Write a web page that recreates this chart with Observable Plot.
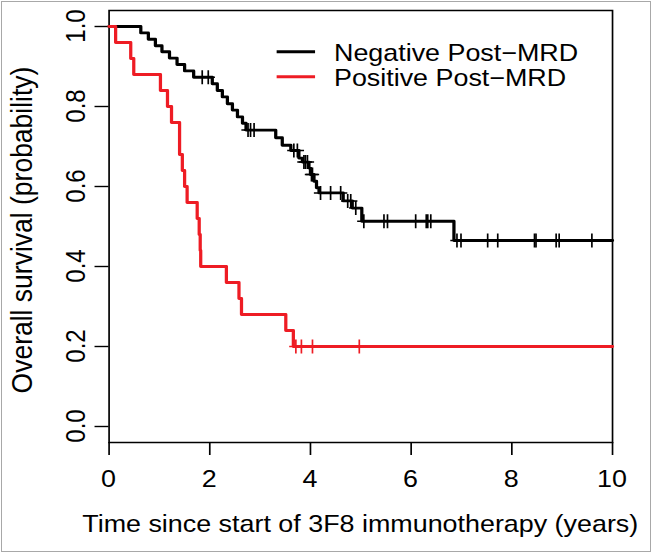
<!DOCTYPE html>
<html><head><meta charset="utf-8">
<script src="https://cdn.jsdelivr.net/npm/d3@7"></script>
<script src="https://cdn.jsdelivr.net/npm/@observablehq/plot@0.6"></script>
<style>
html,body{margin:0;padding:0;background:#fff;}
#chart{width:653px;height:554px;position:relative;overflow:hidden;}
#border{position:absolute;left:1px;top:1px;width:648px;height:549px;border:1px solid #a8a8a8;pointer-events:none;}
svg{font-family:"Liberation Sans",Arial,Helvetica,sans-serif;}
</style></head><body><div id="chart"><div id="border"></div></div>
<script>
const groups = ["Negative Post\u2212MRD", "Positive Post\u2212MRD"];
const groupColors = ["#000000", "#ee1c24"];
const xTicks = [0, 2, 4, 6, 8, 10];
const yTicks = [0, 0.2, 0.4, 0.6, 0.8, 1.0];
const xTitle = "Time since start of 3F8 immunotherapy (years)";
const yTitle = "Overall survival (probability)";

// Negative Post-MRD: step times and survival after each step
const negTime = [0, 0.63, 0.78, 0.92, 1.05, 1.2, 1.35, 1.5, 1.68, 2.05, 2.15, 2.25, 2.35, 2.45, 2.55, 2.65, 2.72, 3.31, 3.44, 3.61, 3.77, 3.84, 3.97, 4.0, 4.07, 4.12, 4.17, 4.65, 4.83, 5.02, 6.85, 10];
const negSurv = [1.0, 0.984, 0.968, 0.952, 0.937, 0.921, 0.905, 0.889, 0.873, 0.857, 0.840, 0.824, 0.807, 0.791, 0.774, 0.758, 0.741, 0.722, 0.703, 0.690, 0.671, 0.661, 0.646, 0.630, 0.613, 0.597, 0.584, 0.564, 0.546, 0.513, 0.465, 0.465];
const negCensor = [1.85, 1.97, 2.76, 2.81, 2.88, 3.67, 3.74, 3.87, 3.9, 3.94, 4.02, 4.04, 4.2, 4.4, 4.6, 4.74, 4.8, 4.9, 5.06, 5.46, 5.53, 6.09, 6.3, 6.33, 6.39, 6.91, 6.99, 7.52, 7.72, 8.45, 8.48, 8.88, 8.94, 9.59];

// Positive Post-MRD
const posTime = [0, 0.13, 0.43, 0.49, 1.02, 1.16, 1.24, 1.40, 1.455, 1.50, 1.55, 1.75, 1.79, 1.81, 1.82, 2.33, 2.58, 2.63, 3.51, 3.66, 10];
const posSurv = [1.0, 0.96, 0.92, 0.88, 0.84, 0.80, 0.76, 0.68, 0.64, 0.60, 0.56, 0.52, 0.48, 0.44, 0.40, 0.36, 0.32, 0.28, 0.24, 0.20, 0.20];
const posCensor = [3.71, 3.82, 4.04, 4.97];

function curve(times, surv, g) { return times.map((t, i) => ({time: t, surv: surv[i], group: g})); }
function levelAt(times, surv, t) { let s = surv[0]; for (let i = 0; i < times.length; i++) if (times[i] <= t) s = surv[i]; return s; }
function censors(ct, times, surv, g) { return ct.map(t => ({time: t, surv: levelAt(times, surv, t), group: g})); }

const lines = [...curve(negTime, negSurv, groups[0]), ...curve(posTime, posSurv, groups[1])];
const marks = [...censors(negCensor, negTime, negSurv, groups[0]), ...censors(posCensor, posTime, posSurv, groups[1])];

const plus = {draw(ctx, size) { const h = Math.sqrt(size / Math.PI); ctx.moveTo(0, -h); ctx.lineTo(0, h); ctx.moveTo(-h * 0.85, 0); ctx.lineTo(h * 0.85, 0); }};

// the reference is horizontally stretched: draw at narrower width, then stretch
const SX = 1.12;
const W = 653, H = 554, IW = W / SX;
const chart = Plot.plot({
  width: IW, height: H,
  marginLeft: 96.9, marginRight: IW - 546.4, marginTop: 10, marginBottom: 112,
  style: {fontFamily: '"Liberation Sans", Arial, sans-serif', background: "transparent", overflow: "visible"},
  x: {domain: [0, 10]},
  y: {domain: [-0.04, 1.04]},
  color: {domain: groups, range: groupColors},
  marks: [
    Plot.frame({stroke: "#000", strokeWidth: 1.5}),
    Plot.axisX({ticks: xTicks, tickSize: 13, fontSize: 24, label: null, tickFormat: () => "", strokeWidth: 1.5}),
    Plot.axisY({ticks: yTicks, tickSize: 12.5, fontSize: 24, label: null, tickFormat: () => "", strokeWidth: 1.4}),
    Plot.line(lines, {x: "time", y: "surv", z: "group", stroke: "group", curve: "step-after", strokeWidth: 2.9}),
    Plot.dot(marks, {x: "time", y: "surv", stroke: "group", symbol: plus, r: 7, strokeWidth: 1.5})
  ]
});
chart.setAttribute("width", W);
chart.setAttribute("preserveAspectRatio", "none");
chart.style.width = W + "px";
chart.style.height = H + "px";
chart.style.maxWidth = "none";
chart.style.position = "absolute";
chart.style.left = "0px";
chart.style.top = "0px";
document.getElementById("chart").appendChild(chart);

const sx = chart.scale("x"), sy = chart.scale("y");
const svg = d3.select(chart);
const g = svg.append("g").attr("fill", "#000").attr("font-size", 24).attr("font-family", '"Liberation Sans", Arial, sans-serif');
// x tick labels
xTicks.forEach(v => g.append("text").attr("x", sx.apply(v)).attr("y", 487).attr("text-anchor", "middle").text(d3.format("d")(v)));
// y tick labels (rotated, parallel to the axis)
yTicks.forEach(v => g.append("text").attr("transform", `translate(75.9,${sy.apply(v)}) rotate(-90)`).attr("text-anchor", "middle").text(d3.format(".1f")(v)));
// axis titles
g.append("text").attr("x", (sx.apply(0) + sx.apply(10)) / 2).attr("y", 531.7).attr("text-anchor", "middle").text(xTitle);
g.append("text").attr("transform", `translate(28.5,${(sy.apply(0) + sy.apply(1)) / 2 + 4}) rotate(-90)`).attr("text-anchor", "middle").attr("font-size", 26.5).text(yTitle);
// legend
groups.forEach((name, i) => {
  const y = 51.7 + i * 25;
  g.append("line").attr("x1", 247).attr("x2", 281.3).attr("y1", y).attr("y2", y)
    .attr("stroke", groupColors[i]).attr("stroke-width", 2.9);
  g.append("text").attr("x", 298.2).attr("y", y + 9).attr("text-anchor", "start").text(name);
});
</script>
</body></html>
